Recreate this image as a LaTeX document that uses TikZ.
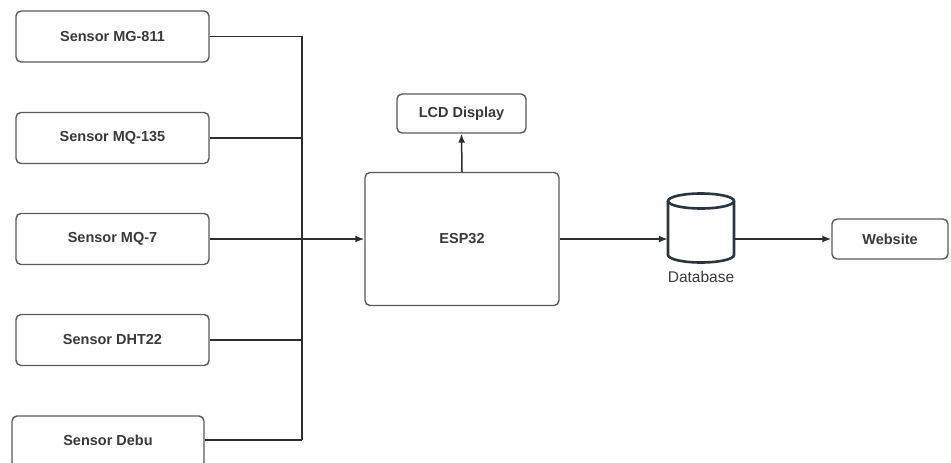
\documentclass[tikz,border=0pt]{standalone}
\usepackage{fontspec}
\setmainfont{Liberation Sans}
\usetikzlibrary{arrows.meta}
\definecolor{txt}{HTML}{3A3A3A}
\definecolor{edge}{HTML}{5A5A5A}
\definecolor{wire}{HTML}{2E2E2E}
\definecolor{dbc}{HTML}{2A3540}
\tikzset{
  box/.style={draw=edge, line width=1.4pt, rounded corners=5pt, fill=white,
    inner sep=0pt, text=txt, font=\fontsize{14.5}{17}\selectfont\bfseries},
  wireline/.style={draw=wire, line width=1.5pt},
  arr/.style={wireline, -{Latex[length=9pt,width=7pt]}},
}
\begin{document}
\begin{tikzpicture}[x=1pt,y=-1pt]
\clip (0,0) rectangle (951,463);
\fill[white] (0,0) rectangle (951,463);
% sensors
\node[box, minimum width=193pt, minimum height=51pt] (s1) at (112.5,36.5) {Sensor MG-811};
\node[box, minimum width=193pt, minimum height=51pt] (s2) at (112.5,138) {Sensor MQ-135};
\node[box, minimum width=193pt, minimum height=51pt] (s3) at (112.5,239) {Sensor MQ-7};
\node[box, minimum width=193pt, minimum height=51pt] (s4) at (112.5,340) {Sensor DHT22};
\node[box, minimum width=192pt, minimum height=51pt] (s5) at (108,441.5) {};
\node[text=txt, font=\fontsize{14.5}{17}\selectfont\bfseries] (s5t) at (108,440) {Sensor Debu};
% bus
\coordinate (b1) at (302,36.5);
\coordinate (b2) at (302,138);
\coordinate (b4) at (302,340);
\coordinate (b5) at (302,440);
\draw[wireline] (s1.east) -- (b1) -- (b5);
\draw[wireline] (s2.east) -- (b2);
\draw[wireline] (s4.east) -- (b4);
\draw[wireline] (s5.east |- b5) -- (b5);
% ESP32
\node[box, minimum width=194pt, minimum height=133pt] (esp) at (462,239) {ESP32};
\node[box, minimum width=129pt, minimum height=39pt] (lcd) at (461.5,113.5) {LCD Display};
\draw[arr] (s3.east) -- (esp.west);
\draw[arr] (esp.north) -- (lcd.south);
% database
\node[minimum width=66pt, minimum height=70pt, inner sep=0pt] (db) at (701,228) {};
\draw[dbc, line width=2.6pt, fill=white] (668,201) -- (668,255) arc[start angle=180, end angle=360, x radius=33pt, y radius=7.5pt] -- (734,201);
\draw[dbc, line width=2.6pt] (701,201) ellipse[x radius=33pt, y radius=7.5pt];
\node[text=txt, font=\fontsize{15.5}{18}\selectfont, anchor=north] (dbl) at (701,268) {Database};
% website
\node[box, minimum width=116pt, minimum height=40pt] (web) at (890,239) {Website};
\draw[arr] (esp.east) -- (esp.east -| db.west);
\draw[arr] (db.east |- web.west) -- (web.west);
\end{tikzpicture}
\end{document}
